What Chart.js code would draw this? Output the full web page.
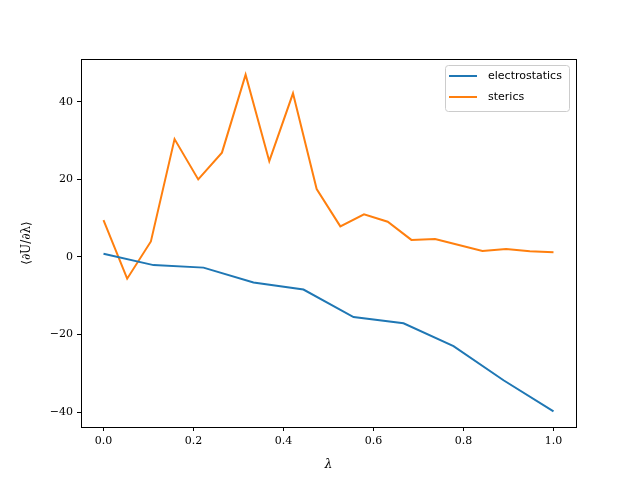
<!DOCTYPE html>
<html>
<head>
<meta charset="utf-8">
<script src="https://cdn.jsdelivr.net/npm/chart.js@4"></script>
<style>
html,body{margin:0;padding:0;background:#fff;}
#wrap{width:640px;height:480px;}
</style>
</head>
<body>
<div id="wrap"><canvas id="c" width="640" height="480"></canvas></div>
<script>
const elecLambda = [0.0, 0.1111, 0.2222, 0.3333, 0.4444, 0.5556, 0.6667, 0.7778, 0.8889, 1.0];
const elecValues = [0.85, -2.1, -2.75, -6.6, -8.4, -15.5, -17.1, -23.0, -31.8, -39.8];
const sterLambda = [0.0, 0.0526, 0.1053, 0.1579, 0.2105, 0.2632, 0.3158, 0.3684, 0.4211, 0.4737,
                    0.5263, 0.5789, 0.6316, 0.6842, 0.7368, 0.7895, 0.8421, 0.8947, 0.9474, 1.0];
const sterValues = [9.5, -5.6, 4.0, 30.4, 20.0, 26.9, 47.0, 24.7, 42.2, 17.5,
                    7.9, 11.0, 9.1, 4.4, 4.6, 3.1, 1.55, 2.05, 1.45, 1.2];
const xTicks = [0.0, 0.2, 0.4, 0.6, 0.8, 1.0];
const yTicks = [-40, -20, 0, 20, 40];
const seriesNames = ['electrostatics', 'sterics'];

const toPts = (xs, ys) => xs.map((x, i) => ({x: x, y: ys[i]}));

const framePlugin = {
  id: 'frame',
  afterDraw(chart) {
    const {ctx, chartArea: a} = chart;
    ctx.save();
    ctx.strokeStyle = '#000';
    ctx.lineWidth = 1;
    ctx.strokeRect(Math.round(a.left) + 0.5, Math.round(a.top) + 0.5,
                   Math.round(a.right - a.left), Math.round(a.bottom - a.top));
    // legend
    const bx = 445.5, by = 65.5, bw = 124, bh = 46;
    ctx.fillStyle = 'rgba(255,255,255,0.8)';
    ctx.strokeStyle = '#cccccc';
    ctx.beginPath();
    if (ctx.roundRect) ctx.roundRect(bx, by, bw, bh, 3); else ctx.rect(bx, by, bw, bh);
    ctx.fill();
    ctx.stroke();
    ctx.font = '11px "DejaVu Sans", sans-serif';
    ctx.textBaseline = 'middle';
    chart.data.datasets.forEach((ds, i) => {
      const yy = 76 + i * 21;
      ctx.strokeStyle = ds.borderColor;
      ctx.lineWidth = 2;
      ctx.beginPath();
      ctx.moveTo(449, yy);
      ctx.lineTo(477, yy);
      ctx.stroke();
      ctx.fillStyle = '#000';
      ctx.fillText(ds.label, 488, yy);
    });
    ctx.restore();
  }
};

new Chart(document.getElementById('c'), {
  type: 'line',
  data: {
    datasets: [
      {label: seriesNames[0], data: toPts(elecLambda, elecValues), borderColor: '#1f77b4', borderWidth: 2, pointRadius: 0, tension: 0, fill: false},
      {label: seriesNames[1], data: toPts(sterLambda, sterValues), borderColor: '#ff7f0e', borderWidth: 2, pointRadius: 0, tension: 0, fill: false}
    ]
  },
  options: {
    responsive: false,
    animation: false,
    layout: {padding: {left: 0, top: 59, right: 64, bottom: 0}},
    plugins: {legend: {display: false}, tooltip: {enabled: false}},
    scales: {
      x: {
        type: 'linear',
        min: -0.05, max: 1.05,
        afterBuildTicks(s) { s.ticks = xTicks.map(v => ({value: v})); },
        afterFit(s) { s.height = 53; },
        grid: {drawOnChartArea: false, tickLength: 4, color: '#000', tickWidth: 1},
        border: {display: true, color: '#000'},
        ticks: {
          color: '#000', padding: 4,
          font: {family: '"DejaVu Serif", "Liberation Serif", serif', size: 11},
          callback: v => Number(v).toFixed(1),
          maxRotation: 0
        },
        title: {display: true, text: 'λ', color: '#000', padding: {top: 0, bottom: 8},
                font: {family: '"DejaVu Serif", serif', size: 12, style: 'italic'}}
      },
      y: {
        type: 'linear',
        min: -43.85, max: 51.05,
        afterBuildTicks(s) { s.ticks = yTicks.map(v => ({value: v})); },
        afterFit(s) { s.width = 81; },
        grid: {drawOnChartArea: false, tickLength: 4, color: '#000', tickWidth: 1},
        border: {display: true, color: '#000'},
        ticks: {
          color: '#000', padding: 4,
          font: {family: '"DejaVu Serif", "Liberation Serif", serif', size: 11},
          callback: v => (v < 0 ? '\u2212' + Math.abs(v) : String(v))
        },
        title: {display: true, text: '⟨∂U/∂λ⟩', color: '#000', padding: {top: 20, bottom: 4},
                font: {family: '"DejaVu Serif", serif', size: 12}}
      }
    }
  },
  plugins: [framePlugin]
});
</script>
</body>
</html>
